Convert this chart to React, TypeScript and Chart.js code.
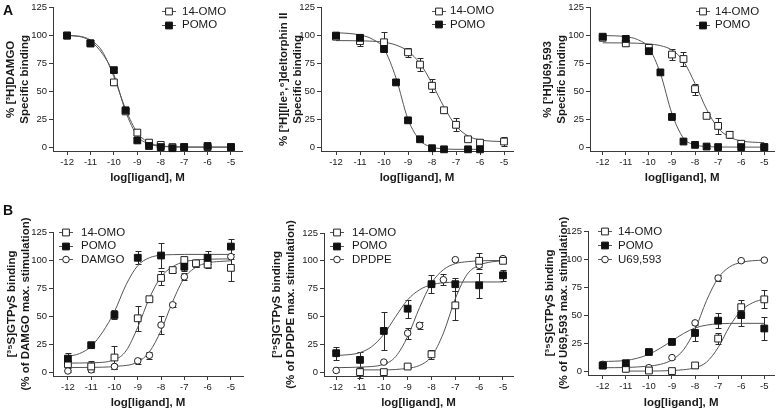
import React, { useEffect, useRef } from 'react';
import { Chart, registerables } from 'chart.js';

Chart.register(...registerables);

// ---------- axis ticks ----------
const X_TICKS = [-12, -11, -10, -9, -8, -7, -6, -5];
const Y_TICKS = [0, 25, 50, 75, 100, 125];
const X_TITLE = 'log[ligand], M';

// ---------- Panel A1: [3H]DAMGO ----------
const A1_X = [-12, -11, -10, -9.5, -9, -8.5, -8, -7.5, -7, -6, -5];
const A1_OMO = [100, 93, 58, 32, 13, 4, 2, 0, 0, 0, 0];
const A1_OMO_ERR = [2, 2, 2, 2, 1, 1, 1, 1, 1, 1, 1];
const A1_POMO = [100, 93, 69, 33, 6, 1, 0, -1, 0, 1, 0];
const A1_POMO_ERR = [2, 2, 2, 2, 1, 1, 1, 1, 1, 1, 1];
const A1_FIT_X = [-12, -11.5, -11, -10.5, -10, -9.5, -9, -8.5, -8, -7.5, -7, -6, -5];
const A1_OMO_FIT = [100, 99.5, 96, 86, 63, 34, 13, 4, 1.2, 0.4, 0.1, 0, 0];
const A1_POMO_FIT = [100, 99.3, 95, 84, 65, 32, 10, 2.8, 0.7, 0.2, 0, 0, 0];

// ---------- Panel A2: [3H][Ile5,6]deltorphin II ----------
const A2_OMO_X = [-12, -11, -10, -9, -8.5, -8, -7.5, -7, -6.5, -6, -5];
const A2_OMO = [99, 95, 94, 85, 74, 55, 33, 20, 7, 4, 5];
const A2_OMO_ERR = [1, 4, 9, 4, 6, 6, 2, 6, 1, 1, 4];
const A2_POMO_X = [-12, -11, -10, -9.5, -9, -8.5, -8, -7.5, -6.5, -6];
const A2_POMO = [100, 98, 88, 58, 24, 7, -1, -2, -2, -2];
const A2_POMO_ERR = [1, 1, 3, 1, 1, 1, 1, 1, 1, 1];
const A2_OMO_FIT_X = [-12, -11, -10, -9.5, -9, -8.5, -8, -7.5, -7, -6.5, -6, -5.5, -5];
const A2_OMO_FIT = [95.5, 95.3, 94, 91.5, 86, 75, 57, 36, 19, 10, 6.5, 5.3, 5];
const A2_POMO_FIT_X = [-12, -11.5, -11, -10.5, -10, -9.5, -9, -8.5, -8, -7.5, -7, -6.5, -6];
const A2_POMO_FIT = [102.5, 102, 100.5, 97, 88, 62, 25, 6, 0, -1.5, -2, -2, -2];

// ---------- Panel A3: [3H]U69,593 ----------
const A3_OMO_X = [-12, -11, -10, -9, -8.5, -8, -7.5, -7, -6.5, -6, -5];
const A3_OMO = [98, 93, 89, 83, 79, 52, 28, 19, 11, 3, 0];
const A3_OMO_ERR = [1, 2, 1, 5, 6, 5, 2, 7, 3, 1, 1];
const A3_POMO_X = [-12, -11, -10, -9.5, -9, -8.5, -8, -7.5, -7, -6, -5];
const A3_POMO = [99, 97, 86, 67, 27, 5, 2, 0.5, 0, 0, 0];
const A3_POMO_ERR = [1, 1, 1, 1, 1, 1, 1, 1, 1, 1, 1];
const A3_OMO_FIT_X = [-12, -11, -10, -9.5, -9, -8.5, -8, -7.5, -7, -6.5, -6, -5.5, -5];
const A3_OMO_FIT = [93.5, 93.4, 92.5, 91, 87, 77, 57, 34, 17, 9, 5.5, 4.4, 4];
const A3_POMO_FIT_X = [-12, -11.5, -11, -10.5, -10, -9.5, -9, -8.5, -8, -7.5, -7, -6, -5];
const A3_POMO_FIT = [100, 99.8, 99, 96.5, 89, 66, 30, 8, 2, 0.5, 0.1, 0, 0];

// ---------- Panel B1: DAMGO-stimulated [35S]GTPγS ----------
const B1_OMO_X = [-12, -11, -10, -9, -8.5, -8, -7.5, -7, -6.5, -6, -5];
const B1_OMO = [7, 5, 13, 48, 65, 84, 91, 100, 97, 96, 93];
const B1_OMO_ERR = [3, 5, 10, 11, 2, 6, 2, 3, 3, 3, 12];
const B1_POMO_X = [-12, -11, -10, -9, -8, -7, -6, -5];
const B1_POMO = [12, 24, 51, 102, 104, 94, 102, 112];
const B1_POMO_ERR = [5, 2, 4, 6, 11, 4, 6, 7];
const B1_REF_X = [-12, -11, -10, -9, -8.5, -8, -7.5, -7, -6.5, -6, -5];
const B1_REF = [1, 2, 5, 10, 15, 42, 60, 85, 97, 96, 103];
const B1_REF_ERR = [1, 1, 2, 3, 3, 8, 2, 3, 3, 2, 2];
const B1_POMO_FIT_X = [-12, -11.5, -11, -10.5, -10, -9.5, -9, -8.5, -8, -7.5, -7, -6, -5];
const B1_POMO_FIT = [14, 16.5, 23, 36, 54, 78, 95, 102, 104.3, 104.8, 105, 105, 105];
const B1_OMO_FIT_X = [-12, -11, -10, -9.5, -9, -8.5, -8, -7.5, -7, -6.5, -6, -5];
const B1_OMO_FIT = [8, 8.3, 11, 19, 40, 66, 85, 94, 98.5, 100, 100.7, 101];
const B1_REF_FIT_X = [-12, -11, -10, -9, -8.5, -8, -7.5, -7, -6.5, -6, -5.5, -5];
const B1_REF_FIT = [4, 4.2, 5, 9, 18, 37, 63, 84, 93.5, 97.5, 98.7, 99.3];

// ---------- Panel B2: DPDPE-stimulated ----------
const B2_OMO_X = [-11, -10, -9, -8, -7, -6, -5];
const B2_OMO = [0, 0, 5, 16, 60, 100, 100];
const B2_OMO_ERR = [5, 1, 1, 4, 13, 7, 2];
const B2_POMO_X = [-12, -11, -10, -9, -8, -7, -6, -5];
const B2_POMO = [17, 11, 37, 57, 79, 79, 78, 87];
const B2_POMO_ERR = [6, 7, 17, 8, 8, 6, 11, 5];
const B2_REF_X = [-12, -10, -9, -8.5, -8, -7.5, -7, -6, -5];
const B2_REF = [1.5, 9, 35, 42, 79, 83, 101, 96, 102];
const B2_REF_ERR = [1, 1, 5, 3, 2, 5, 1, 2, 1];
const B2_POMO_FIT_X = [-12, -11.5, -11, -10.5, -10, -9.5, -9, -8.5, -8, -7.5, -7, -6, -5];
const B2_POMO_FIT = [15, 15.6, 17.5, 23, 34, 50, 65, 74, 78.5, 80.3, 80.8, 81, 81];
const B2_REF_FIT_X = [-12, -11, -10, -9.5, -9, -8.5, -8, -7.5, -7, -6.5, -6, -5];
const B2_REF_FIT = [4, 4.5, 7, 14, 32, 58, 80, 92, 97.5, 99.2, 100, 100.3];
const B2_OMO_FIT_X = [-11, -10, -9, -8.5, -8, -7.5, -7, -6.5, -6, -5.5, -5];
const B2_OMO_FIT = [2, 2, 3.5, 6, 14, 35, 66, 88, 96, 99, 100];

// ---------- Panel B3: U69,593-stimulated ----------
const B3_OMO_X = [-12, -11, -10, -9, -8, -7, -6, -5];
const B3_OMO = [5, 2, 0.5, 0, 5, 29, 57, 64];
const B3_OMO_ERR = [1, 1, 1, 1, 2, 5, 6, 8];
const B3_POMO_X = [-12, -11, -10, -9, -8, -7, -6, -5];
const B3_POMO = [5, 7, 17, 26, 34, 45, 50, 38];
const B3_POMO_ERR = [1, 1, 1, 1, 7, 7, 10, 10];
const B3_REF_X = [-12, -11, -10, -9, -8, -7, -6, -5];
const B3_REF = [6, 2, 3, 12, 43, 83, 98.5, 99];
const B3_REF_ERR = [1, 1, 1, 1, 1, 3, 1, 1];
const B3_POMO_FIT_X = [-12, -11, -10.5, -10, -9.5, -9, -8.5, -8, -7.5, -7, -6, -5];
const B3_POMO_FIT = [8.5, 9.5, 11.5, 15, 20.5, 27, 33.5, 38.5, 41, 42.2, 42.6, 42.6];
const B3_REF_FIT_X = [-12, -11, -10, -9.5, -9, -8.5, -8, -7.5, -7, -6.5, -6, -5.5, -5];
const B3_REF_FIT = [3, 3.2, 4.5, 6, 10, 19, 37, 63, 83, 93, 97, 98.5, 99];
const B3_OMO_FIT_X = [-11, -10, -9, -8.5, -8, -7.5, -7, -6.5, -6, -5.5, -5];
const B3_OMO_FIT = [0, 0, 0.5, 1.2, 3, 8, 21, 40, 54, 61, 64.5];

// ---------- styles ----------
const FONT = "'Liberation Sans', Arial, Helvetica, sans-serif";
const TXT = '#1a1a1a';
const AXIS = '#3a3a3a';
const FIT = '#555';
const EDGE = '#222';

type Marker = 'sqOpen' | 'sqFilled' | 'circle';

interface SeriesDef {
  label: string;
  x: number[];
  y: number[];
  err: number[];
  fitX: number[];
  fitY: number[];
  marker: Marker;
}

interface PanelDef {
  left: number; top: number; width: number; height: number;
  L: number; T: number; R: number; B: number;
  xmin: number; xmax: number;
  yTitle: string[];
  yTitlePad: number;
  xTitlePad: number;
  legend: { mx: number; y0: number; dy: number; tx: number };
  series: SeriesDef[];
}

const zip = (xs: number[], ys: number[]) => xs.map((x, i) => ({ x, y: ys[i] }));

function markerProps(m: Marker) {
  if (m === 'circle') return { pointStyle: 'circle', pointRadius: 3.3, backgroundColor: '#fff', borderColor: EDGE };
  if (m === 'sqFilled') return { pointStyle: 'rect', pointRadius: 4.8, backgroundColor: '#111', borderColor: '#111' };
  return { pointStyle: 'rect', pointRadius: 4.8, backgroundColor: '#fff', borderColor: EDGE };
}

function drawMarker(ctx: CanvasRenderingContext2D, m: Marker, x: number, y: number) {
  ctx.save();
  ctx.lineWidth = 1;
  ctx.beginPath();
  if (m === 'circle') {
    ctx.arc(x, y, 3.3, 0, Math.PI * 2);
    ctx.fillStyle = '#fff';
    ctx.strokeStyle = EDGE;
  } else {
    const s = 4.8 * Math.SQRT1_2;
    ctx.rect(x - s, y - s, 2 * s, 2 * s);
    ctx.fillStyle = m === 'sqFilled' ? '#111' : '#fff';
    ctx.strokeStyle = m === 'sqFilled' ? '#111' : EDGE;
  }
  ctx.fill();
  ctx.stroke();
  ctx.restore();
}

const errorBarPlugin = {
  id: 'errbars',
  beforeDatasetsDraw(chart: any) {
    const ctx = chart.ctx;
    const xs = chart.scales.x;
    const ys = chart.scales.y;
    chart.data.datasets.forEach((ds: any) => {
      if (!ds.errors) return;
      ctx.save();
      ctx.strokeStyle = '#2a2a2a';
      ctx.lineWidth = 1;
      ds.data.forEach((p: any, j: number) => {
        const e = ds.errors[j];
        if (!e) return;
        const px = Math.round(xs.getPixelForValue(p.x)) + 0.5;
        const y1 = Math.round(ys.getPixelForValue(p.y + e)) + 0.5;
        const y2 = Math.round(ys.getPixelForValue(p.y - e)) + 0.5;
        ctx.beginPath();
        ctx.moveTo(px, y1); ctx.lineTo(px, y2);
        ctx.moveTo(px - 3, y1); ctx.lineTo(px + 3, y1);
        ctx.moveTo(px - 3, y2); ctx.lineTo(px + 3, y2);
        ctx.stroke();
      });
      ctx.restore();
    });
  },
};

const legendPlugin = {
  id: 'customLegend',
  afterDraw(chart: any, _args: any, opts: any) {
    const ctx = chart.ctx;
    const lg = opts.pos;
    if (!lg) return;
    const entries = chart.data.datasets.filter((d: any) => d.legendMarker);
    entries.forEach((d: any, i: number) => {
      const y = lg.y0 + i * lg.dy;
      ctx.save();
      ctx.strokeStyle = FIT;
      ctx.lineWidth = 1;
      ctx.beginPath();
      ctx.moveTo(lg.mx - 7, Math.round(y) + 0.5);
      ctx.lineTo(lg.mx + 7, Math.round(y) + 0.5);
      ctx.stroke();
      ctx.restore();
      drawMarker(ctx, d.legendMarker, lg.mx, Math.round(y) + 0.5);
      ctx.save();
      ctx.fillStyle = TXT;
      ctx.font = `11.5px ${FONT}`;
      ctx.textBaseline = 'middle';
      ctx.textAlign = 'left';
      ctx.fillText(d.label, lg.tx, y + 0.5);
      ctx.restore();
    });
  },
};

const OMO = '14-OMO';
const POMO = 'POMO';

const PANELS: PanelDef[] = [
  {
    left: 0, top: 0, width: 260, height: 200,
    L: 53, T: 6, R: 242, B: 151, xmin: -12.6, xmax: -4.53,
    yTitle: ['% [³H]DAMGO', 'Specific binding'], yTitlePad: 4.5, xTitlePad: 15.5,
    legend: { mx: 169, y0: 11, dy: 13.5, tx: 182 },
    series: [
      { label: OMO, x: A1_X, y: A1_OMO, err: A1_OMO_ERR, fitX: A1_FIT_X, fitY: A1_OMO_FIT, marker: 'sqOpen' },
      { label: POMO, x: A1_X, y: A1_POMO, err: A1_POMO_ERR, fitX: A1_FIT_X, fitY: A1_POMO_FIT, marker: 'sqFilled' },
    ],
  },
  {
    left: 260, top: 0, width: 260, height: 200,
    L: 321, T: 6, R: 513, B: 151, xmin: -12.625, xmax: -4.625,
    yTitle: ['% [³H][Ile⁵,⁶]deltorphin II', 'Specific binding'], yTitlePad: 17.5, xTitlePad: 15.5,
    legend: { mx: 179, y0: 10.5, dy: 13.5, tx: 190 },
    series: [
      { label: OMO, x: A2_OMO_X, y: A2_OMO, err: A2_OMO_ERR, fitX: A2_OMO_FIT_X, fitY: A2_OMO_FIT, marker: 'sqOpen' },
      { label: POMO, x: A2_POMO_X, y: A2_POMO, err: A2_POMO_ERR, fitX: A2_POMO_FIT_X, fitY: A2_POMO_FIT, marker: 'sqFilled' },
    ],
  },
  {
    left: 520, top: 0, width: 260, height: 200,
    L: 590, T: 6, R: 777, B: 151, xmin: -12.55, xmax: -4.57,
    yTitle: ['% [³H]U69,593', 'Specific binding'], yTitlePad: 21.5, xTitlePad: 15.5,
    legend: { mx: 183, y0: 11, dy: 13.5, tx: 195 },
    series: [
      { label: OMO, x: A3_OMO_X, y: A3_OMO, err: A3_OMO_ERR, fitX: A3_OMO_FIT_X, fitY: A3_OMO_FIT, marker: 'sqOpen' },
      { label: POMO, x: A3_POMO_X, y: A3_POMO, err: A3_POMO_ERR, fitX: A3_POMO_FIT_X, fitY: A3_POMO_FIT, marker: 'sqFilled' },
    ],
  },
  {
    left: 0, top: 200, width: 260, height: 210,
    L: 53, T: 232, R: 243, B: 376, xmin: -12.64, xmax: -4.48,
    yTitle: ['[³⁵S]GTPγS binding', '(% of DAMGO max. stimulation)'], yTitlePad: 5.5, xTitlePad: 1,
    legend: { mx: 66, y0: 32, dy: 13.5, tx: 81 },
    series: [
      { label: OMO, x: B1_OMO_X, y: B1_OMO, err: B1_OMO_ERR, fitX: B1_OMO_FIT_X, fitY: B1_OMO_FIT, marker: 'sqOpen' },
      { label: POMO, x: B1_POMO_X, y: B1_POMO, err: B1_POMO_ERR, fitX: B1_POMO_FIT_X, fitY: B1_POMO_FIT, marker: 'sqFilled' },
      { label: 'DAMGO', x: B1_REF_X, y: B1_REF, err: B1_REF_ERR, fitX: B1_REF_FIT_X, fitY: B1_REF_FIT, marker: 'circle' },
    ],
  },
  {
    left: 260, top: 200, width: 260, height: 210,
    L: 324, T: 233, R: 513, B: 376, xmin: -12.51, xmax: -4.58,
    yTitle: ['[³⁵S]GTPγS binding', '(% of DPDPE max. stimulation)'], yTitlePad: 10.5, xTitlePad: 1,
    legend: { mx: 77, y0: 32, dy: 13.5, tx: 92 },
    series: [
      { label: OMO, x: B2_OMO_X, y: B2_OMO, err: B2_OMO_ERR, fitX: B2_OMO_FIT_X, fitY: B2_OMO_FIT, marker: 'sqOpen' },
      { label: POMO, x: B2_POMO_X, y: B2_POMO, err: B2_POMO_ERR, fitX: B2_POMO_FIT_X, fitY: B2_POMO_FIT, marker: 'sqFilled' },
      { label: 'DPDPE', x: B2_REF_X, y: B2_REF, err: B2_REF_ERR, fitX: B2_REF_FIT_X, fitY: B2_REF_FIT, marker: 'circle' },
    ],
  },
  {
    left: 520, top: 200, width: 260, height: 210,
    L: 588, T: 231, R: 777, B: 375, xmin: -12.64, xmax: -4.57,
    yTitle: ['[³⁵S]GTPγS binding', '(% of U69,593 max. stimulation)'], yTitlePad: 23.5, xTitlePad: 1,
    legend: { mx: 85, y0: 31, dy: 14, tx: 98 },
    series: [
      { label: OMO, x: B3_OMO_X, y: B3_OMO, err: B3_OMO_ERR, fitX: B3_OMO_FIT_X, fitY: B3_OMO_FIT, marker: 'sqOpen' },
      { label: POMO, x: B3_POMO_X, y: B3_POMO, err: B3_POMO_ERR, fitX: B3_POMO_FIT_X, fitY: B3_POMO_FIT, marker: 'sqFilled' },
      { label: 'U69,593', x: B3_REF_X, y: B3_REF, err: B3_REF_ERR, fitX: B3_REF_FIT_X, fitY: B3_REF_FIT, marker: 'circle' },
    ],
  },
];

function Panel({ p }: { p: PanelDef }) {
  const ref = useRef<HTMLCanvasElement | null>(null);
  useEffect(() => {
    if (!ref.current) return;
    const datasets: any[] = [];
    p.series.forEach((s) => {
      datasets.push({
        label: s.label + ' fit',
        data: zip(s.fitX, s.fitY),
        showLine: true,
        borderColor: FIT,
        borderWidth: 1,
        pointRadius: 0,
        pointHoverRadius: 0,
        cubicInterpolationMode: 'monotone',
        fill: false,
        order: 10,
        clip: false,
      });
    });
    p.series.forEach((s) => {
      const mp = markerProps(s.marker);
      datasets.push({
        label: s.label,
        data: zip(s.x, s.y),
        errors: s.err,
        legendMarker: s.marker,
        showLine: false,
        pointStyle: mp.pointStyle,
        pointRadius: mp.pointRadius,
        pointHoverRadius: mp.pointRadius,
        pointBackgroundColor: mp.backgroundColor,
        pointBorderColor: mp.borderColor,
        pointBorderWidth: 1,
        order: s.marker === 'sqFilled' ? 1 : 2,
        clip: false,
      });
    });
    const chart = new Chart(ref.current, {
      type: 'scatter',
      data: { datasets },
      plugins: [errorBarPlugin, legendPlugin],
      options: {
        animation: false,
        responsive: false,
        maintainAspectRatio: false,
        devicePixelRatio: 1,
        events: [],
        layout: {
          padding: { left: 0, top: p.T - p.top, right: p.left + p.width - p.R, bottom: 0 },
        },
        plugins: {
          legend: { display: false },
          tooltip: { enabled: false },
          customLegend: { pos: p.legend },
        } as any,
        scales: {
          x: {
            type: 'linear',
            min: p.xmin,
            max: p.xmax,
            afterBuildTicks: (s: any) => { s.ticks = X_TICKS.map((v) => ({ value: v })); },
            afterFit: (s: any) => { s.height = p.top + p.height - p.B; },
            grid: { drawOnChartArea: false, drawTicks: true, tickLength: 4, color: AXIS },
            border: { display: true, color: AXIS, width: 1 },
            ticks: {
              font: { family: FONT, size: 9.5 },
              color: TXT,
              padding: 2,
              maxRotation: 0,
              autoSkip: false,
              callback: (v: any) => String(v),
            },
            title: {
              display: true,
              text: X_TITLE,
              color: TXT,
              font: { family: FONT, size: 11.5, weight: 'bold', lineHeight: 1.15 },
              padding: { top: 0, bottom: p.xTitlePad },
            },
          },
          y: {
            type: 'linear',
            min: -3.5,
            max: 125,
            afterBuildTicks: (s: any) => { s.ticks = Y_TICKS.map((v) => ({ value: v })); },
            afterFit: (s: any) => { s.width = p.L - p.left; },
            grid: { drawOnChartArea: false, drawTicks: true, tickLength: 4, color: AXIS },
            border: { display: true, color: AXIS, width: 1 },
            ticks: {
              font: { family: FONT, size: 9.5 },
              color: TXT,
              padding: 2,
              autoSkip: false,
              callback: (v: any) => String(v),
            },
            title: {
              display: true,
              text: p.yTitle,
              color: TXT,
              font: { family: FONT, size: 11.5, weight: 'bold', lineHeight: 1.15 },
              padding: { top: p.yTitlePad, bottom: 0 },
            },
          },
        },
      } as any,
    });
    return () => chart.destroy();
  }, [p]);
  return (
    <canvas
      ref={ref}
      width={p.width}
      height={p.height}
      style={{ position: 'absolute', left: p.left, top: p.top, width: p.width, height: p.height }}
    />
  );
}

export default function App() {
  const letter: React.CSSProperties = {
    position: 'absolute',
    fontFamily: FONT,
    fontWeight: 'bold',
    fontSize: 14,
    color: '#111',
    lineHeight: '14px',
  };
  return (
    <div style={{ position: 'fixed', left: 0, top: 0, width: 780, height: 410, background: '#fff', overflow: 'hidden' }}>
      {PANELS.map((p, i) => (
        <Panel key={i} p={p} />
      ))}
      <div style={{ ...letter, left: 3, top: 3 }}>A</div>
      <div style={{ ...letter, left: 3, top: 203 }}>B</div>
    </div>
  );
}
